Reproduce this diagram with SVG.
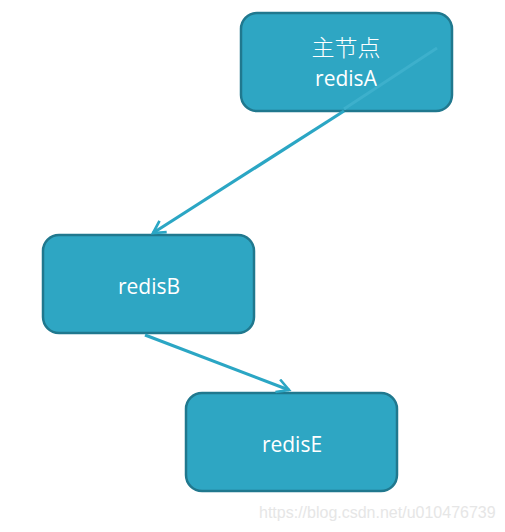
<svg xmlns="http://www.w3.org/2000/svg" width="505" height="532" viewBox="0 0 505 532">
<style>
.node rect{fill:#2EA6C3;stroke:#20788E;stroke-width:2.5}
.node text{fill:#fff;font-family:"Open Sans","Noto Sans","Noto Sans CJK SC",sans-serif;font-size:21px;text-anchor:middle}
.node text.cjk{font-family:"Noto Sans CJK SC",sans-serif;font-size:23px;font-weight:300}
.conn{stroke:#2BA6C4;stroke-width:3.2;fill:none}
.wm{fill:#e6e6e6;font-family:"Liberation Sans",Arial,sans-serif;font-size:16px}
</style>
<defs>
<marker id="arr" viewBox="0 0 12 12" refX="10" refY="6" markerWidth="5" markerHeight="5" markerUnits="strokeWidth" orient="auto">
<path d="M1,1 L10,6 L1,11" fill="none" stroke="#2BA6C4" stroke-width="2"/>
</marker>
</defs>
<g id="redisA" class="node">
<rect x="241" y="13" width="211" height="98" rx="16"/>
<text class="cjk" x="346" y="56">主节点</text>
<text x="346" y="86">redisA</text>
</g>
<g id="redisB" class="node">
<rect x="43" y="235" width="211" height="98" rx="16"/>
<text x="149" y="294">redisB</text>
</g>
<g id="redisE" class="node">
<rect x="186" y="393" width="211" height="98" rx="16"/>
<text x="292" y="452">redisE</text>
</g>
<g id="connectors">
<line x1="437" y1="48" x2="344" y2="109" stroke="#3DB0CC" stroke-width="3"/>
<line class="conn" x1="344" y1="111" x2="153" y2="233" marker-end="url(#arr)"/>
<line class="conn" x1="145" y1="335" x2="289" y2="390" marker-end="url(#arr)"/>
</g>
<text class="wm" x="259" y="518">https://blog.csdn.net/u010476739</text>
</svg>
